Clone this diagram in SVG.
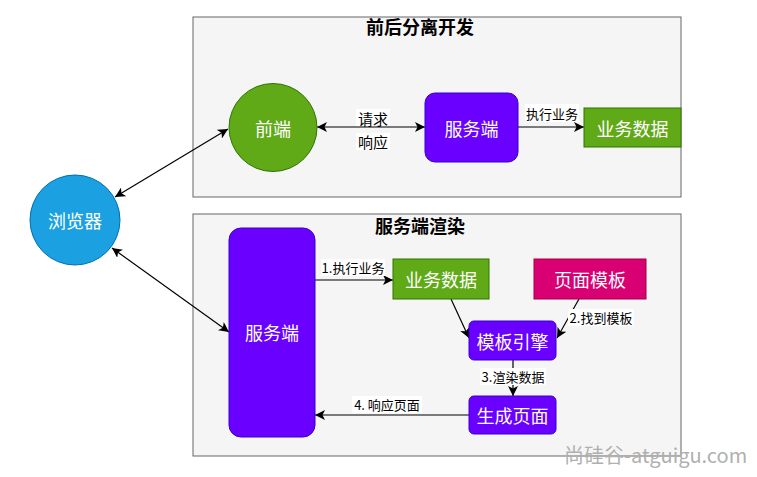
<svg xmlns="http://www.w3.org/2000/svg" width="757" height="477" viewBox="0 0 757 477">
<defs>
<style>
text{font-family:"Noto Sans CJK SC","Microsoft YaHei",sans-serif;}
.container{fill:#f5f5f5;stroke:#666666;stroke-width:1;}
.title{font-size:18px;font-weight:bold;fill:#000;text-anchor:middle;}
.nt{font-size:18px;fill:#ffffff;text-anchor:middle;dominant-baseline:central;}
.green{fill:#60a917;stroke:#2d7600;}
.purple{fill:#6a00ff;stroke:#3700cc;}
.blue{fill:#1ba1e2;stroke:#006eaf;}
.pink{fill:#d80073;stroke:#a50040;}
.edge{stroke:#000;stroke-width:1.2;fill:none;}
.lbl{font-size:13px;fill:#000;text-anchor:middle;dominant-baseline:central;}
.lblbg{fill:#ffffff;}
</style>
<marker id="arr" viewBox="0 0 10 10" refX="10" refY="5" markerWidth="10" markerHeight="10" markerUnits="userSpaceOnUse" orient="auto-start-reverse">
<path d="M0,0 L10,5 L0,10 L2.5,5 z" fill="#000"/>
</marker>
</defs>
<rect width="757" height="477" fill="#ffffff"/>

<g id="container-top">
<rect class="container" x="193" y="17" width="488" height="180"/>
<text class="title" x="420" y="34">前后分离开发</text>
</g>
<g id="container-bottom">
<rect class="container" x="193" y="214" width="488" height="242"/>
<text class="title" x="420" y="233">服务端渲染</text>
</g>

<g id="connectors">
<line class="edge" x1="115" y1="197" x2="228" y2="129" marker-start="url(#arr)" marker-end="url(#arr)"/>
<line class="edge" x1="112" y1="248" x2="229" y2="332" marker-start="url(#arr)" marker-end="url(#arr)"/>
<line class="edge" x1="317" y1="127" x2="425" y2="127" marker-start="url(#arr)" marker-end="url(#arr)"/>
<rect class="lblbg" x="356" y="109" width="34" height="17"/>
<text class="lbl" x="373" y="118" style="font-size:15px">请求</text>
<rect class="lblbg" x="356" y="133" width="34" height="17"/>
<text class="lbl" x="373" y="141" style="font-size:15px">响应</text>
<line class="edge" x1="518" y1="127" x2="584" y2="127" marker-end="url(#arr)"/>
<rect class="lblbg" x="525" y="104" width="54" height="18"/>
<text class="lbl" x="552" y="113">执行业务</text>

<line class="edge" x1="315" y1="280" x2="393" y2="280" marker-end="url(#arr)"/>
<rect class="lblbg" x="321" y="259" width="64" height="17"/>
<text class="lbl" x="353" y="267">1.执行业务</text>
<line class="edge" x1="451" y1="299" x2="469" y2="338" marker-end="url(#arr)"/>
<line class="edge" x1="579" y1="299" x2="557" y2="338" marker-end="url(#arr)"/>
<rect class="lblbg" x="568" y="309" width="66" height="17"/>
<text class="lbl" x="601" y="317">2.找到模板</text>
<line class="edge" x1="513" y1="360" x2="513" y2="396" marker-end="url(#arr)"/>
<rect class="lblbg" x="480" y="368" width="66" height="17"/>
<text class="lbl" x="513" y="376">3.渲染数据</text>
<line class="edge" x1="469" y1="415" x2="315" y2="415" marker-end="url(#arr)"/>
<rect class="lblbg" x="352" y="396" width="70" height="17"/>
<text class="lbl" x="387" y="404">4. 响应页面</text>
</g>

<g id="node-browser">
<circle class="blue" cx="75" cy="220" r="45"/>
<text class="nt" x="75" y="220">浏览器</text>
</g>
<g id="node-frontend">
<circle class="green" cx="273" cy="127.5" r="44"/>
<text class="nt" x="273" y="127.5">前端</text>
</g>
<g id="node-server-top">
<rect class="purple" x="425" y="93" width="93" height="69" rx="10"/>
<text class="nt" x="471.5" y="127.5">服务端</text>
</g>
<g id="node-data-top">
<rect class="green" x="584" y="108" width="97" height="39"/>
<text class="nt" x="632.5" y="127.5">业务数据</text>
</g>
<g id="node-server-bottom">
<rect class="purple" x="229" y="228" width="86" height="209" rx="12"/>
<text class="nt" x="272" y="332">服务端</text>
</g>
<g id="node-data-bottom">
<rect class="green" x="393" y="259" width="96" height="40"/>
<text class="nt" x="441" y="279">业务数据</text>
</g>
<g id="node-template">
<rect class="pink" x="534" y="259" width="112" height="40"/>
<text class="nt" x="590" y="279">页面模板</text>
</g>
<g id="node-engine">
<rect class="purple" x="469" y="321" width="87" height="39" rx="5"/>
<text class="nt" x="512.5" y="340.5">模板引擎</text>
</g>
<g id="node-page">
<rect class="purple" x="469" y="396" width="87" height="38" rx="5"/>
<text class="nt" x="512.5" y="415">生成页面</text>
</g>

<text x="564" y="463" style="font-size:20px;fill:#b0b0b0;font-family:'Noto Sans CJK SC','Open Sans',sans-serif">尚硅谷-atguigu.com</text>
</svg>
